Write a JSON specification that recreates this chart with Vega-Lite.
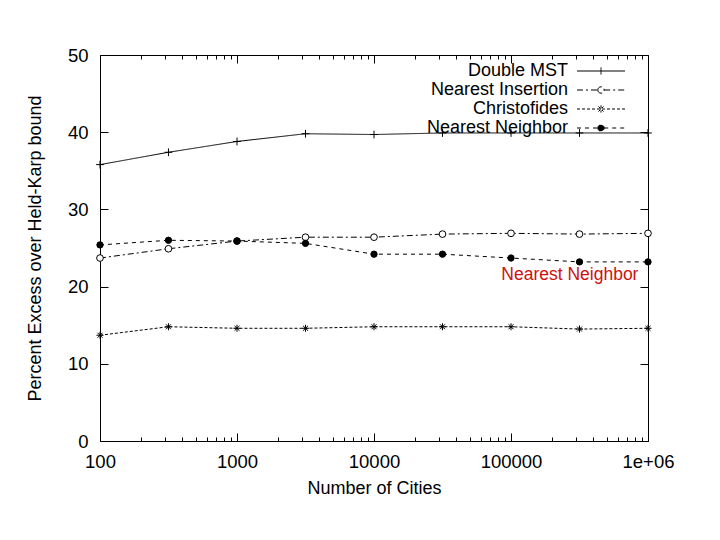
{
  "$schema": "https://vega.github.io/schema/vega-lite/v6.json",
  "width": 548,
  "height": 386,
  "autosize": {"type": "none"},
  "padding": {"left": 100, "top": 55, "right": 72, "bottom": 99},
  "background": "white",
  "config": {
    "font": "Liberation Sans",
    "view": {"stroke": "black", "strokeWidth": 1},
    "axis": {
      "domain": false,
      "tickColor": "black",
      "labelColor": "black",
      "titleColor": "black",
      "labelFont": "Liberation Sans",
      "titleFont": "Liberation Sans",
      "labelFontSize": 18.5,
      "titleFontSize": 18,
      "titleFontWeight": "normal",
      "grid": false
    },
    "legend": {
      "labelFont": "Liberation Sans",
      "labelFontSize": 18,
      "labelColor": "black"
    }
  },
  "datasets": {
    "perf": [
      {"cities": 100, "pct": 35.8, "series": "Double MST"},
      {"cities": 316, "pct": 37.4, "series": "Double MST"},
      {"cities": 1000, "pct": 38.8, "series": "Double MST"},
      {"cities": 3162, "pct": 39.8, "series": "Double MST"},
      {"cities": 10000, "pct": 39.7, "series": "Double MST"},
      {"cities": 31623, "pct": 39.9, "series": "Double MST"},
      {"cities": 100000, "pct": 39.9, "series": "Double MST"},
      {"cities": 316228, "pct": 39.9, "series": "Double MST"},
      {"cities": 1000000, "pct": 39.9, "series": "Double MST"},
      {"cities": 100, "pct": 23.7, "series": "Nearest Insertion"},
      {"cities": 316, "pct": 24.9, "series": "Nearest Insertion"},
      {"cities": 1000, "pct": 25.9, "series": "Nearest Insertion"},
      {"cities": 3162, "pct": 26.4, "series": "Nearest Insertion"},
      {"cities": 10000, "pct": 26.4, "series": "Nearest Insertion"},
      {"cities": 31623, "pct": 26.8, "series": "Nearest Insertion"},
      {"cities": 100000, "pct": 26.9, "series": "Nearest Insertion"},
      {"cities": 316228, "pct": 26.8, "series": "Nearest Insertion"},
      {"cities": 1000000, "pct": 26.9, "series": "Nearest Insertion"},
      {"cities": 100, "pct": 13.7, "series": "Christofides"},
      {"cities": 316, "pct": 14.8, "series": "Christofides"},
      {"cities": 1000, "pct": 14.6, "series": "Christofides"},
      {"cities": 3162, "pct": 14.6, "series": "Christofides"},
      {"cities": 10000, "pct": 14.8, "series": "Christofides"},
      {"cities": 31623, "pct": 14.8, "series": "Christofides"},
      {"cities": 100000, "pct": 14.8, "series": "Christofides"},
      {"cities": 316228, "pct": 14.5, "series": "Christofides"},
      {"cities": 1000000, "pct": 14.6, "series": "Christofides"},
      {"cities": 100, "pct": 25.4, "series": "Nearest Neighbor"},
      {"cities": 316, "pct": 26.0, "series": "Nearest Neighbor"},
      {"cities": 1000, "pct": 25.9, "series": "Nearest Neighbor"},
      {"cities": 3162, "pct": 25.6, "series": "Nearest Neighbor"},
      {"cities": 10000, "pct": 24.2, "series": "Nearest Neighbor"},
      {"cities": 31623, "pct": 24.2, "series": "Nearest Neighbor"},
      {"cities": 100000, "pct": 23.7, "series": "Nearest Neighbor"},
      {"cities": 316228, "pct": 23.2, "series": "Nearest Neighbor"},
      {"cities": 1000000, "pct": 23.2, "series": "Nearest Neighbor"}
    ],
    "note": [
      {"cities": 269000, "pct": 21.5, "label": "Nearest Neighbor"}
    ]
  },
  "resolve": {"axis": {"x": "independent", "y": "independent"}},
  "layer": [
    {
      "data": {"name": "perf"},
      "mark": {"type": "line", "stroke": "black", "strokeWidth": 1},
      "encoding": {
        "x": {
          "field": "cities",
          "type": "quantitative",
          "title": "Number of Cities",
          "scale": {"type": "log", "domain": [100, 1000000], "nice": false},
          "axis": {
            "values": [100, 1000, 10000, 100000, 1000000],
            "labelExpr": "datum.value >= 999999 ? '1e+06' : format(datum.value, 'd')",
            "tickSize": -8,
            "labelPadding": 19,
            "titlePadding": 9,
            "labelOverlap": false,
            "labelFlush": false
          }
        },
        "y": {
          "field": "pct",
          "type": "quantitative",
          "title": "Percent Excess over Held-Karp bound",
          "scale": {"domain": [0, 50], "nice": false, "zero": true},
          "axis": {
            "values": [0, 10, 20, 30, 40, 50],
            "tickSize": -8,
            "labelPadding": 20,
            "titlePadding": 23
          }
        },
        "strokeDash": {
          "field": "series",
          "type": "nominal",
          "scale": {
            "domain": ["Double MST", "Nearest Insertion", "Christofides", "Nearest Neighbor"],
            "range": [[1, 0], [6, 3, 2, 3], [3, 2], [4, 4]]
          },
          "legend": {
            "title": null,
            "orient": "none",
            "legendX": 492,
            "legendY": 7,
            "symbolType": "M-3,0L3,0",
            "symbolSize": 256,
            "symbolStrokeColor": "black",
            "symbolStrokeWidth": 1,
            "labelAlign": "right",
            "labelOffset": -42,
            "rowPadding": 1,
            "encode": {
              "symbols": {
                "update": {
                  "shape": {"signal": "datum.value === 'Double MST' ? 'M-3,0L3,0M0,-0.45L0,0.45' : datum.value === 'Nearest Insertion' ? 'M-3,0L-0.4,0M0.4,0L3,0M-0.4,0A0.4,0.4 0 1,0 0.4,0A0.4,0.4 0 1,0 -0.4,0' : datum.value === 'Christofides' ? 'M-3,0L3,0M0,-0.45L0,0.45M-0.32,-0.32L0.32,0.32M-0.32,0.32L0.32,-0.32' : 'M-3,0L-0.4,0M0.4,0L3,0M-0.4,0A0.4,0.4 0 1,0 0.4,0A0.4,0.4 0 1,0 -0.4,0'"},
                  "fill": {"signal": "datum.value === 'Nearest Neighbor' ? 'black' : datum.value === 'Nearest Insertion' ? 'white' : 'transparent'"},
                  "stroke": {"value": "black"},
                  "strokeWidth": {"value": 1},
                  "strokeOpacity": {"value": 1},
                  "opacity": {"value": 1}
                }
              }
            }
          }
        }
      }
    },
    {
      "data": {"name": "perf"},
      "transform": [{"filter": "datum.series === 'Double MST'"}],
      "mark": {"type": "point", "shape": "M-1,0L1,0M0,-1L0,1", "stroke": "black", "strokeWidth": 1, "size": 60, "opacity": 1},
      "encoding": {
        "x": {
          "field": "cities",
          "type": "quantitative",
          "axis": {
            "orient": "bottom",
            "values": [200, 300, 400, 500, 600, 700, 800, 900, 2000, 3000, 4000, 5000, 6000, 7000, 8000, 9000, 20000, 30000, 40000, 50000, 60000, 70000, 80000, 90000, 200000, 300000, 400000, 500000, 600000, 700000, 800000, 900000],
            "tickSize": -4,
            "labels": false,
            "title": null
          }
        },
        "y": {"field": "pct", "type": "quantitative", "axis": null}
      }
    },
    {
      "data": {"name": "perf"},
      "transform": [{"filter": "datum.series === 'Nearest Insertion'"}],
      "mark": {"type": "point", "shape": "circle", "filled": true, "fill": "white", "stroke": "black", "strokeWidth": 1, "size": 45, "opacity": 1},
      "encoding": {
        "x": {
          "field": "cities",
          "type": "quantitative",
          "axis": {
            "orient": "top",
            "values": [100, 1000, 10000, 100000, 1000000],
            "offset": -8,
            "tickSize": 8,
            "labels": false,
            "title": null
          }
        },
        "y": {
          "field": "pct",
          "type": "quantitative",
          "axis": {
            "orient": "right",
            "values": [0, 10, 20, 30, 40, 50],
            "offset": -8,
            "tickSize": 8,
            "labels": false,
            "title": null
          }
        }
      }
    },
    {
      "data": {"name": "perf"},
      "transform": [{"filter": "datum.series === 'Christofides'"}],
      "mark": {"type": "point", "shape": "M-1,0L1,0M0,-1L0,1M-0.7,-0.7L0.7,0.7M-0.7,0.7L0.7,-0.7", "stroke": "black", "strokeWidth": 1, "size": 50, "opacity": 1},
      "encoding": {
        "x": {
          "field": "cities",
          "type": "quantitative",
          "axis": {
            "orient": "top",
            "values": [200, 300, 400, 500, 600, 700, 800, 900, 2000, 3000, 4000, 5000, 6000, 7000, 8000, 9000, 20000, 30000, 40000, 50000, 60000, 70000, 80000, 90000, 200000, 300000, 400000, 500000, 600000, 700000, 800000, 900000],
            "offset": -4,
            "tickSize": 4,
            "labels": false,
            "title": null
          }
        },
        "y": {"field": "pct", "type": "quantitative", "axis": null}
      }
    },
    {
      "data": {"name": "perf"},
      "transform": [{"filter": "datum.series === 'Nearest Neighbor'"}],
      "mark": {"type": "point", "shape": "circle", "filled": true, "fill": "black", "stroke": "black", "strokeWidth": 1, "size": 40, "opacity": 1},
      "encoding": {
        "x": {"field": "cities", "type": "quantitative", "axis": null},
        "y": {"field": "pct", "type": "quantitative", "axis": null}
      }
    },
    {
      "data": {"name": "note"},
      "mark": {"type": "text", "color": "#cc1111", "fontSize": 17.5, "font": "Liberation Sans"},
      "encoding": {
        "x": {"field": "cities", "type": "quantitative", "axis": null},
        "y": {"field": "pct", "type": "quantitative", "axis": null},
        "text": {"field": "label"}
      }
    }
  ]
}
